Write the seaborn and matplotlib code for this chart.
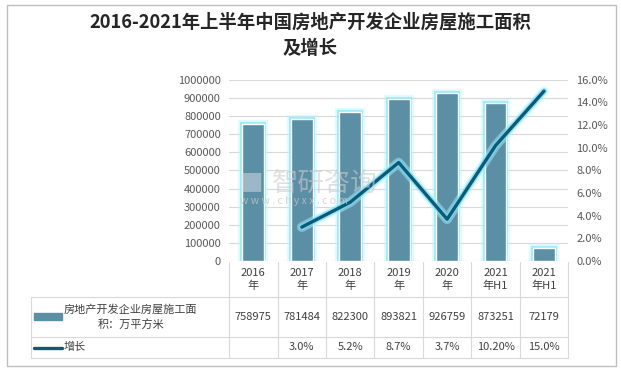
import numpy as np
import pandas as pd
import matplotlib.pyplot as plt
import matplotlib.patheffects as pe
import matplotlib.transforms as mtransforms
from matplotlib.patches import Rectangle
from matplotlib.lines import Line2D
import seaborn as sns

years = ['2016\n年', '2017\n年', '2018\n年', '2019\n年', '2020\n年', '2021\n年H1', '2021\n年H1']
area = [758975, 781484, 822300, 893821, 926759, 873251, 72179]
growth = [np.nan, 3.0, 5.2, 8.7, 3.7, 10.2, 15.0]
growth_txt = ['', '3.0%', '5.2%', '8.7%', '3.7%', '10.20%', '15.0%']
bar_name = '房地产开发企业房屋施工面\n积：万平方米'
line_name = '增长'

sns.set_style('white')
plt.rcParams['font.family'] = ['Noto Sans CJK SC', 'DejaVu Sans']

bar_color = '#5B8FA6'
line_color = '#0D5A78'
grey = '#595959'

df = pd.DataFrame({'pos': range(len(area)), 'area': area, 'growth': growth})

fig = plt.figure(figsize=(6.21, 3.73), dpi=100)
ax = fig.add_axes([0.369, 0.300, 0.546, 0.486])

sns.barplot(data=df, x='pos', y='area', color=bar_color, width=0.45,
            saturation=1, ax=ax)
for p in ax.patches:
    p.set_path_effects([pe.Stroke(linewidth=6, foreground='#c4f5ff', alpha=0.45),
                        pe.Stroke(linewidth=3, foreground='#86e8fb', alpha=0.75),
                        pe.Normal()])
ax.set_ylim(0, 1000000)
ax.set_yticks(range(0, 1000001, 100000))
ax.set_yticklabels([str(v) for v in range(0, 1000001, 100000)])
ax.yaxis.grid(True, color='#d9d9d9', linewidth=0.8)
ax.set_axisbelow(True)
ax.set_xlim(-0.5, len(area) - 0.5)
ax.set_xticks([])
ax.set_xlabel('')
ax.set_ylabel('')
for s in ax.spines.values():
    s.set_visible(False)
ax.tick_params(axis='y', length=0, labelsize=8, labelcolor=grey, pad=6)

# watermark
fig.text(240 / 621, 1 - 190 / 373, '■', fontsize=17, color='#c9d3dc', alpha=0.6)
fig.text(272 / 621, 1 - 191 / 373, '智研咨询', fontsize=19, color='#cccccc', alpha=0.6)
fig.text(240 / 621, 1 - 204 / 373, 'w w w . c h y x x . c o m', fontsize=7.5,
         color='#c8c8c8', alpha=0.75)

ax2 = ax.twinx()
sns.lineplot(data=df, x='pos', y='growth', color=line_color, linewidth=2.4,
             ax=ax2)
ax2.lines[0].set_path_effects([pe.Stroke(linewidth=7, foreground='#b8f3ff', alpha=0.45),
                               pe.Stroke(linewidth=4.5, foreground='#6fdff5', alpha=0.7),
                               pe.Normal()])
ax2.set_ylim(0, 16)
ax2.set_yticks(range(0, 17, 2))
ax2.set_yticklabels([f'{v:.1f}%' for v in range(0, 17, 2)])
ax2.set_xlim(-0.5, len(area) - 0.5)
ax2.set_ylabel('')
ax2.set_xlabel('')
for s in ax2.spines.values():
    s.set_visible(False)
ax2.tick_params(axis='y', length=0, labelsize=8, labelcolor=grey, pad=6)

# data table under the plot
tr = mtransforms.blended_transform_factory(ax.transData, fig.transFigure)
line_kw = dict(color='#d9d9d9', linewidth=0.8)
y_top, y_r1, y_r2, y_bot = 1 - 262 / 373, 1 - 297 / 373, 1 - 337 / 373, 1 - 358 / 373
n = len(area)
for i in range(n + 1):
    x = i - 0.5
    ax.add_line(Line2D([x, x], [y_top, y_bot], transform=tr, clip_on=False, **line_kw))
x_left = 31 / 621
tr_f = fig.transFigure
for y in (y_r1, y_r2, y_bot):
    fig.add_artist(Line2D([x_left, 0.915], [y, y], transform=tr_f, **line_kw))
fig.add_artist(Line2D([x_left, x_left], [y_r1, y_bot], transform=tr_f, **line_kw))

for i in range(n):
    ax.text(i, (y_top + y_r1) / 2, years[i], transform=tr, ha='center', va='center',
            fontsize=8, color='#404040', linespacing=1.3)
    ax.text(i, (y_r1 + y_r2) / 2, str(area[i]), transform=tr, ha='center', va='center',
            fontsize=8, color='#404040')
    ax.text(i, (y_r2 + y_bot) / 2, growth_txt[i], transform=tr, ha='center', va='center',
            fontsize=8, color='#404040')

fig.add_artist(Rectangle((34 / 621, 1 - 320 / 373), 28 / 621, 7 / 373,
                         transform=tr_f, color=bar_color))
fig.text(64 / 621, (y_r1 + y_r2) / 2, bar_name, ha='left', va='center',
         fontsize=8, color='#404040', linespacing=1.5, multialignment='center')
fig.add_artist(Line2D([34 / 621, 62 / 621], [1 - 348 / 373] * 2, transform=tr_f,
                      color=line_color, linewidth=2.4))
fig.text(64 / 621, 1 - 347 / 373, line_name, ha='left', va='center',
         fontsize=8, color='#404040')

fig.text(0.5, 1 - 22 / 373, '2016-2021年上半年中国房地产开发企业房屋施工面积',
         ha='center', va='center', fontsize=13.2, fontweight='bold', color='#262626')
fig.text(0.5, 1 - 49 / 373, '及增长', ha='center', va='center', fontsize=13.2,
         fontweight='bold', color='#262626')

fig.add_artist(Rectangle((7 / 621, 1 - 366 / 373), 609 / 621, 361 / 373,
                         transform=tr_f, fill=False, edgecolor='#bfbfbf', linewidth=1))

fig.savefig('out.png', dpi=100)
